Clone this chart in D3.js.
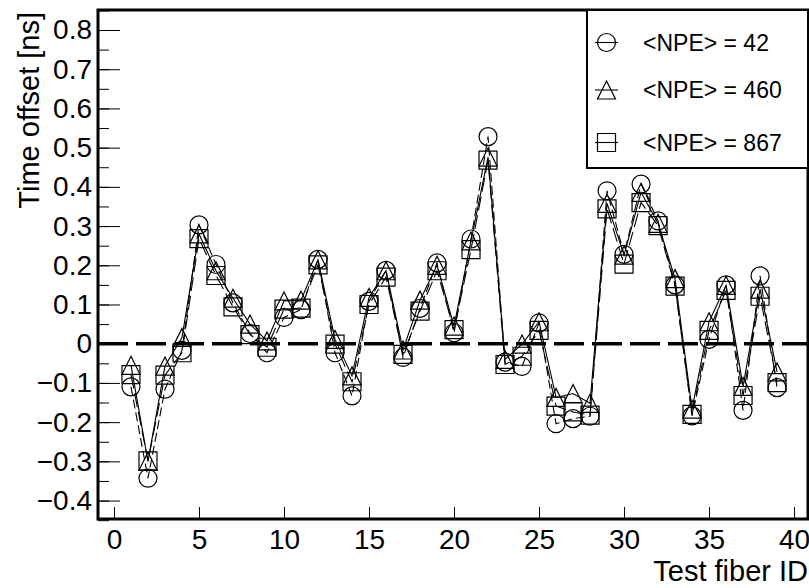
<!DOCTYPE html>
<html>
<head>
<meta charset="utf-8">
<script src="https://cdn.jsdelivr.net/npm/d3@7"></script>
<style>
  html, body { margin: 0; padding: 0; background: #fff; }
  svg { display: block; }
  text { font-family: "Liberation Sans", Arial, Helvetica, sans-serif; fill: #000; }
</style>
</head>
<body>
<svg id="chart" width="809" height="588"></svg>
<script>
// Fiber IDs 1..39
const fiberIds = d3.range(1, 40);

// Time offsets [ns] per test fiber for three mean photo-electron levels
const offsetsNpe42 = [
  -0.110, -0.343, -0.116, -0.017, 0.303, 0.202, 0.104, 0.026, -0.023, 0.067,
  0.087, 0.215, -0.023, -0.133, 0.108, 0.187, -0.035, 0.090, 0.206, 0.028,
  0.267, 0.528, -0.047, -0.058, 0.053, -0.204, -0.191, -0.185, 0.390, 0.228,
  0.407, 0.313, 0.150, -0.184, 0.011, 0.150, -0.170, 0.173, -0.112
];
const offsetsNpe460 = [
  -0.055, -0.300, -0.057, 0.016, 0.280, 0.186, 0.116, 0.050, 0.007, 0.109,
  0.111, 0.214, 0.011, -0.082, 0.118, 0.186, -0.016, 0.111, 0.200, 0.045,
  0.262, 0.476, -0.040, -0.001, 0.056, -0.137, -0.127, -0.152, 0.358, 0.226,
  0.386, 0.307, 0.166, -0.167, 0.056, 0.149, -0.109, 0.139, -0.072
];
const offsetsNpe867 = [
  -0.079, -0.299, -0.080, -0.023, 0.268, 0.174, 0.094, 0.023, -0.009, 0.088,
  0.091, 0.201, -0.001, -0.097, 0.100, 0.170, -0.027, 0.083, 0.186, 0.036,
  0.240, 0.468, -0.053, -0.032, 0.034, -0.159, -0.174, -0.182, 0.344, 0.203,
  0.360, 0.301, 0.147, -0.180, 0.034, 0.136, -0.132, 0.121, -0.099
];

const seriesLabels = ["<NPE> = 42", "<NPE> = 460", "<NPE> = 867"];
const xTickValues = [0, 5, 10, 15, 20, 25, 30, 35, 40];
const yMajorTicks = [-0.4, -0.3, -0.2, -0.1, 0, 0.1, 0.2, 0.3, 0.4, 0.5, 0.6, 0.7, 0.8];
const yMinorTicks = d3.range(-0.45, 0.851, 0.05).map(v => +v.toFixed(2));

const series = [
  { label: seriesLabels[0], values: offsetsNpe42, marker: "circle", dash: "9,4" },
  { label: seriesLabels[1], values: offsetsNpe460, marker: "triangle", dash: null },
  { label: seriesLabels[2], values: offsetsNpe867, marker: "square", dash: "14,5" }
];

const frame = { left: 98, right: 808, top: 10, bottom: 519 };
const svg = d3.select("#chart");

const x = d3.scaleLinear().domain([-0.94, 40.82]).range([frame.left, frame.right]);
const y = d3.scaleLinear().domain([-0.447, 0.851]).range([frame.bottom, frame.top]);

// Negative labels use a true minus sign with a little breathing room
const fmtY = v => (v === 0 ? "0" : d3.format(".1f")(v).replace("-", "\u2212\u2009"));

// Y axis: long major ticks, short minor ticks, pointing into the plot
const yAxisMinor = d3.axisRight(y).tickValues(yMinorTicks).tickSize(11).tickFormat("");
svg.append("g").attr("transform", `translate(${frame.left},0)`).call(yAxisMinor)
  .call(g => g.select(".domain").remove())
  .call(g => g.selectAll("line").attr("stroke", "#000").attr("stroke-width", 1));

const yAxisMajor = d3.axisRight(y).tickValues(yMajorTicks).tickSize(22).tickFormat("");
svg.append("g").attr("transform", `translate(${frame.left},0)`).call(yAxisMajor)
  .call(g => g.select(".domain").remove())
  .call(g => g.selectAll("line").attr("stroke", "#000").attr("stroke-width", 1));

const yLabels = d3.axisLeft(y).tickValues(yMajorTicks).tickSize(0).tickPadding(6).tickFormat(fmtY);
svg.append("g").attr("transform", `translate(${frame.left},0)`).call(yLabels)
  .call(g => g.select(".domain").remove())
  .call(g => g.selectAll("text").attr("font-size", 28).attr("font-family", null).attr("fill", "#000"));

// X axis: major ticks only, pointing up
const xAxis = d3.axisTop(x).tickValues(xTickValues).tickSize(12).tickFormat("");
svg.append("g").attr("transform", `translate(0,${frame.bottom})`).call(xAxis)
  .call(g => g.select(".domain").remove())
  .call(g => g.selectAll("line").attr("stroke", "#000").attr("stroke-width", 1));

const xLabels = d3.axisBottom(x).tickValues(xTickValues).tickSize(0).tickPadding(10).tickFormat(d3.format("d"));
svg.append("g").attr("transform", `translate(0,${frame.bottom})`).call(xLabels)
  .call(g => g.select(".domain").remove())
  .call(g => g.selectAll("text").attr("font-size", 28).attr("font-family", null).attr("fill", "#000"));

// Axis titles
svg.append("text")
  .attr("transform", `translate(39,${frame.top + 2}) rotate(-90)`)
  .attr("text-anchor", "end")
  .attr("font-size", 29)
  .text("Time offset [ns]");

svg.append("text")
  .attr("x", frame.right)
  .attr("y", 581)
  .attr("text-anchor", "end")
  .attr("font-size", 29)
  .text("Test fiber ID");

// Zero reference line
svg.append("line")
  .attr("x1", frame.left).attr("x2", frame.right)
  .attr("y1", y(0)).attr("y2", y(0))
  .attr("stroke", "#000").attr("stroke-width", 3.5)
  .attr("stroke-dasharray", "30,8");

// Marker shapes
function markerPath(kind, r) {
  if (kind === "circle") {
    return d3.symbol().type(d3.symbolCircle).size(Math.PI * r * r)();
  }
  if (kind === "triangle") {
    return `M0,${-r}L${r},${r}L${-r},${r}Z`;
  }
  return `M${-r},${-r}H${r}V${r}H${-r}Z`;
}

const line = d3.line().x((d, i) => x(fiberIds[i])).y(d => y(d));
const plot = svg.append("g");

series.forEach(s => {
  plot.append("path")
    .attr("d", line(s.values))
    .attr("fill", "none")
    .attr("stroke", "#000")
    .attr("stroke-width", 1.1)
    .attr("stroke-dasharray", s.dash);
});

series.forEach(s => {
  plot.selectAll(null)
    .data(s.values)
    .join("path")
    .attr("transform", (d, i) => `translate(${x(fiberIds[i])},${y(d)})`)
    .attr("d", markerPath(s.marker, 9))
    .attr("fill", "none")
    .attr("stroke", "#000")
    .attr("stroke-width", 1.2);
});

// Frame
svg.append("rect")
  .attr("x", frame.left).attr("y", frame.top)
  .attr("width", frame.right - frame.left).attr("height", frame.bottom - frame.top)
  .attr("fill", "none").attr("stroke", "#000").attr("stroke-width", 3);

// Legend
const legend = svg.append("g");
legend.append("rect")
  .attr("x", 587).attr("y", frame.top)
  .attr("width", frame.right - 587).attr("height", 168 - frame.top)
  .attr("fill", "#fff").attr("stroke", "#000").attr("stroke-width", 2);

const legendRows = [42.5, 90, 142.5];
series.forEach((s, k) => {
  const cy = legendRows[k];
  const g = legend.append("g");
  g.append("line")
    .attr("x1", 595).attr("x2", 618).attr("y1", cy).attr("y2", cy)
    .attr("stroke", "#000").attr("stroke-width", 1.1);
  g.append("path")
    .attr("transform", `translate(606.5,${cy})`)
    .attr("d", markerPath(s.marker, 9))
    .attr("fill", "none").attr("stroke", "#000").attr("stroke-width", 1.2);
  g.append("text")
    .attr("x", 643).attr("y", cy)
    .attr("dy", "0.36em")
    .attr("font-size", 23)
    .text(s.label);
});
</script>
</body>
</html>
